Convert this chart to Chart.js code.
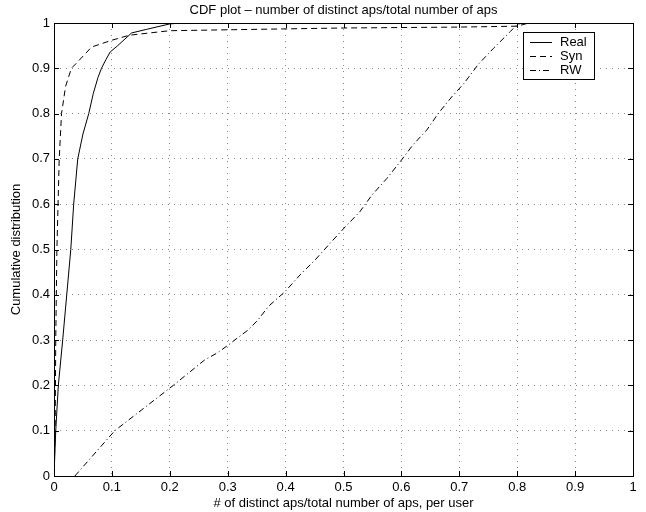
<!DOCTYPE html>
<html>
<head>
<meta charset="utf-8">
<script src="https://cdn.jsdelivr.net/npm/chart.js@4.4.0/dist/chart.umd.min.js"></script>
<style>
  html, body { margin: 0; padding: 0; background: #fff; }
  #wrap { width: 646px; height: 512px; }
</style>
</head>
<body>
<div id="wrap"><canvas id="cdfChart" width="646" height="512"></canvas></div>
<script>
// --- dados ---
const chartTitle = 'CDF plot – number of distinct aps/total number of aps';
const xTicks = [0, 0.1, 0.2, 0.3, 0.4, 0.5, 0.6, 0.7, 0.8, 0.9, 1];
const yTicks = [0, 0.1, 0.2, 0.3, 0.4, 0.5, 0.6, 0.7, 0.8, 0.9, 1];
const seriesNames = ['Real', 'Syn', 'RW'];

const realX = [0, 0.003, 0.0075, 0.015, 0.022, 0.029, 0.034, 0.041, 0.05, 0.06, 0.068, 0.076, 0.082, 0.09, 0.097, 0.11, 0.134, 0.16, 0.2, 0.22, 1];
const realY = [0, 0.1, 0.2, 0.3, 0.4, 0.5, 0.6, 0.7, 0.755, 0.8, 0.845, 0.88, 0.9, 0.92, 0.936, 0.95, 0.978, 0.986, 0.998, 1, 1];

const synX = [0, 0.002, 0.003, 0.005, 0.007, 0.009, 0.013, 0.02, 0.03, 0.04, 0.065, 0.1, 0.13, 0.2, 0.3, 0.4, 0.5, 0.6, 0.7, 0.8, 0.82, 1];
const synY = [0, 0.1, 0.3, 0.5, 0.6, 0.7, 0.8, 0.86, 0.9, 0.913, 0.947, 0.962, 0.973, 0.983, 0.985, 0.987, 0.989, 0.99, 0.991, 0.993, 1, 1];

const rwX = [0.036, 0.105, 0.206, 0.26, 0.281, 0.301, 0.316, 0.335, 0.352, 0.37, 0.399, 0.425, 0.451, 0.477, 0.503, 0.528, 0.549, 0.575, 0.598, 0.62, 0.644, 0.664, 0.687, 0.707, 0.733, 0.759, 0.788, 0.8, 0.81, 1];
const rwY = [0, 0.1, 0.2, 0.256, 0.271, 0.289, 0.304, 0.322, 0.344, 0.374, 0.407, 0.444, 0.477, 0.514, 0.55, 0.583, 0.62, 0.657, 0.694, 0.731, 0.764, 0.801, 0.837, 0.865, 0.909, 0.944, 0.981, 0.997, 1, 1];

const FONT = "'Liberation Sans', Arial, Helvetica, sans-serif";

function toPoints(xs, ys) {
    return xs.map((x, i) => ({ x: x, y: ys[i] }));
}

// caixa, ticks internos, título e legenda no estilo MATLAB
const matlabBox = {
    id: 'matlabBox',
    afterDatasetsDraw(chart) {
        const ctx = chart.ctx;
        const a = chart.chartArea;
        const xs = chart.scales.x;
        const ys = chart.scales.y;
        const len = 5;
        ctx.save();
        ctx.strokeStyle = '#000';
        ctx.lineWidth = 1;
        ctx.setLineDash([]);
        ctx.beginPath();
        xTicks.forEach(v => {
            const px = Math.round(xs.getPixelForValue(v)) + 0.5;
            ctx.moveTo(px, a.bottom); ctx.lineTo(px, a.bottom - len);
            ctx.moveTo(px, a.top); ctx.lineTo(px, a.top + len);
        });
        yTicks.forEach(v => {
            const py = Math.round(ys.getPixelForValue(v)) + 0.5;
            ctx.moveTo(a.left, py); ctx.lineTo(a.left + len, py);
            ctx.moveTo(a.right, py); ctx.lineTo(a.right - len, py);
        });
        ctx.stroke();
        ctx.strokeRect(Math.round(a.left) + 0.5, Math.round(a.top) + 0.5,
            Math.round(a.right - a.left), Math.round(a.bottom - a.top));

        // título centrado na área do gráfico
        ctx.fillStyle = '#000';
        ctx.font = '13px ' + FONT;
        ctx.textAlign = 'center';
        ctx.textBaseline = 'middle';
        ctx.fillText(chartTitle, (a.left + a.right) / 2, 10.5);

        // legenda
        const lx = 523.5, ly = 32.5, lw = 71, lh = 47;
        ctx.fillStyle = '#fff';
        ctx.fillRect(lx, ly, lw, lh);
        ctx.strokeRect(lx, ly, lw, lh);
        ctx.textAlign = 'left';
        chart.data.datasets.forEach((ds, i) => {
            const y = 42 + i * 14 + 0.5;
            ctx.setLineDash(ds.borderDash || []);
            ctx.beginPath();
            ctx.moveTo(530, y);
            ctx.lineTo(552, y);
            ctx.stroke();
            ctx.setLineDash([]);
            ctx.fillStyle = '#000';
            ctx.fillText(ds.label, 560, y);
        });
        ctx.restore();
    }
};

const ctx = document.getElementById('cdfChart');

new Chart(ctx, {
    type: 'line',
    data: {
        datasets: [
            { label: seriesNames[0], data: toPoints(realX, realY), borderColor: '#000', borderWidth: 1, borderDash: [] },
            { label: seriesNames[1], data: toPoints(synX, synY), borderColor: '#000', borderWidth: 1, borderDash: [6, 4] },
            { label: seriesNames[2], data: toPoints(rwX, rwY), borderColor: '#000', borderWidth: 1, borderDash: [6, 3, 1, 3] }
        ]
    },
    options: {
        responsive: false,
        animation: false,
        devicePixelRatio: 1,
        layout: { padding: { left: 0, right: 13, top: 23, bottom: 0 } },
        elements: {
            point: { radius: 0 },
            line: { tension: 0, fill: false }
        },
        scales: {
            x: {
                type: 'linear',
                min: 0,
                max: 1,
                afterFit: s => { s.height = 36; },
                afterBuildTicks: s => { s.ticks = xTicks.map(v => ({ value: v })); },
                grid: { color: '#8a8a8a', lineWidth: 1, drawTicks: false },
                border: { display: false, dash: [1, 5] },
                ticks: {
                    color: '#000',
                    padding: 4,
                    maxRotation: 0,
                    font: { family: FONT, size: 13 },
                    callback: v => String(Number(v.toFixed(1)))
                },
                title: {
                    display: true,
                    text: '# of distinct aps/total number of aps, per user',
                    color: '#000',
                    font: { family: FONT, size: 13 },
                    padding: { top: 0, bottom: 1 }
                }
            },
            y: {
                type: 'linear',
                min: 0,
                max: 1,
                afterFit: s => { s.width = 54; },
                afterBuildTicks: s => { s.ticks = yTicks.map(v => ({ value: v })); },
                grid: { color: '#8a8a8a', lineWidth: 1, drawTicks: false },
                border: { display: false, dash: [1, 5] },
                ticks: {
                    color: '#000',
                    padding: 4,
                    font: { family: FONT, size: 13 },
                    callback: v => String(Number(v.toFixed(1)))
                },
                title: {
                    display: true,
                    text: 'Cumulative distribution',
                    color: '#000',
                    font: { family: FONT, size: 13 },
                    padding: { top: 9, bottom: 0 }
                }
            }
        },
        plugins: {
            legend: { display: false },
            tooltip: { enabled: false },
            title: { display: false }
        }
    },
    plugins: [matlabBox]
});
</script>
</body>
</html>
